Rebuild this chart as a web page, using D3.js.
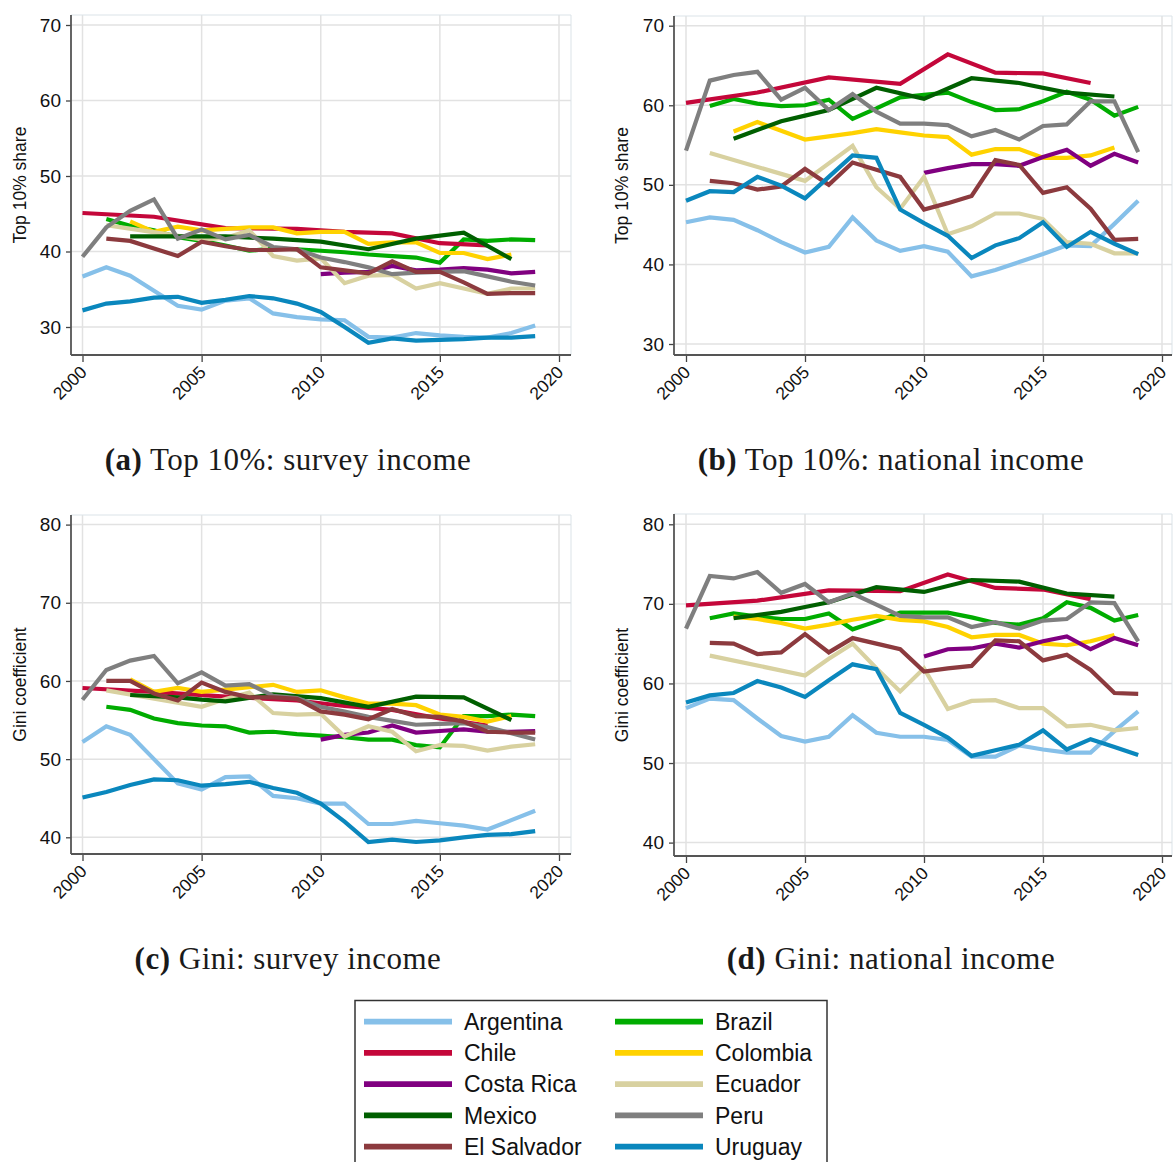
<!DOCTYPE html>
<html><head><meta charset="utf-8">
<script src="https://cdn.jsdelivr.net/npm/d3@7"></script>
<style>html,body{margin:0;padding:0;background:#fff} svg{display:block}</style>
</head><body>
<svg id="chart" width="1174" height="1162"></svg>
<script>
// ---------------- DATA ----------------
const years = d3.range(2000, 2020);
const n = null;
// drawing order (by ISO code)
const countries = ["Argentina","Brazil","Chile","Colombia","Costa Rica","Ecuador","Mexico","Peru","El Salvador","Uruguay"];
const colors    = ["#86c0e9","#00ac00","#c4073a","#ffd200","#800080","#d8d1a0","#005f00","#7f7f7f","#8c3a3e","#0a87bd"];
const legendOrder = ["Argentina","Chile","Costa Rica","Mexico","El Salvador","Brazil","Colombia","Ecuador","Peru","Uruguay"];

// (a) Top 10% share, survey income
const top10Survey = [
  [36.7,37.9,36.8,34.8,32.8,32.3,33.5,33.8,31.8,31.3,31.0,30.9,28.7,28.6,29.2,28.9,28.7,28.6,29.2,30.2], // Argentina
  [n,44.3,43.4,42.8,41.9,41.4,40.8,40.1,40.4,40.3,40.1,39.9,39.6,39.4,39.2,38.5,41.6,41.4,41.6,41.5],    // Brazil
  [45.1,n,n,44.6,n,n,43.1,n,n,43.0,n,42.6,n,42.4,n,41.1,n,40.8,n,n],                                   // Chile
  [n,n,44.0,42.6,43.3,42.8,43.0,43.2,43.2,42.4,42.6,42.6,41.0,41.2,41.2,39.8,39.8,39.0,39.6,n],         // Colombia
  [n,n,n,n,n,n,n,n,n,n,37.0,37.2,37.3,38.1,37.5,37.6,37.8,37.6,37.1,37.3],                              // Costa Rica
  [n,43.5,n,n,n,41.6,41.8,42.8,39.4,38.8,39.1,35.8,36.8,36.9,35.1,35.8,35.1,34.4,35.1,35.1],            // Ecuador
  [n,n,42.0,n,42.0,42.0,42.0,n,41.7,n,41.3,n,40.3,n,41.7,n,42.5,n,39.0,n],                              // Mexico
  [39.3,43.2,45.4,46.9,41.7,42.9,41.6,42.2,40.6,40.3,39.2,38.6,37.9,37.0,37.2,37.3,37.4,36.7,36.0,35.5], // Peru
  [n,41.7,41.4,40.4,39.4,41.3,40.7,40.2,40.2,40.3,37.9,37.5,37.1,38.7,37.3,37.3,35.9,34.4,34.5,34.5],   // El Salvador
  [32.2,33.1,33.4,33.9,34.0,33.2,33.6,34.1,33.8,33.1,32.0,30.0,27.9,28.5,28.2,28.3,28.4,28.6,28.6,28.8]  // Uruguay
];
// (b) Top 10% share, national income
const top10National = [
  [45.3,45.9,45.6,44.3,42.8,41.5,42.2,45.9,43.0,41.7,42.3,41.6,38.5,39.3,40.3,41.3,42.4,42.3,45.1,48.0],
  [n,59.9,60.8,60.2,59.9,60.0,60.7,58.3,59.6,61.0,61.3,61.6,60.4,59.4,59.5,60.5,61.7,60.7,58.7,59.8],
  [60.3,n,n,61.6,n,n,63.5,n,n,62.7,n,66.4,n,64.1,n,64.0,n,62.8,n,n],
  [n,n,56.7,57.9,56.8,55.7,56.1,56.5,57.0,56.6,56.2,56.0,53.8,54.5,54.5,53.4,53.4,53.7,54.7,n],
  [n,n,n,n,n,n,n,n,n,n,51.5,52.1,52.6,52.6,52.4,53.5,54.4,52.4,53.9,52.8],
  [n,54.0,n,n,n,50.5,52.7,54.9,49.7,47.0,51.0,43.8,44.8,46.4,46.4,45.7,42.8,42.6,41.4,41.4],
  [n,n,55.8,n,58.0,58.7,59.4,n,62.2,n,60.8,n,63.4,n,62.8,n,61.6,n,61.1,n],
  [54.3,63.1,63.8,64.2,60.7,62.2,59.4,61.4,59.2,57.7,57.7,57.5,56.1,56.9,55.7,57.4,57.6,60.5,60.5,54.1],
  [n,50.5,50.2,49.4,49.8,52.0,50.0,52.8,51.9,51.0,46.9,47.7,48.6,53.1,52.5,49.0,49.7,47.0,43.1,43.2],
  [48.0,49.2,49.1,51.0,49.9,48.3,51.0,53.7,53.4,46.9,45.2,43.6,40.8,42.4,43.3,45.3,42.2,44.1,42.6,41.3]
];
// (c) Gini, survey income
const giniSurvey = [
  [52.2,54.2,53.1,50.0,46.9,46.1,47.7,47.8,45.3,45.0,44.3,44.3,41.7,41.7,42.1,41.8,41.5,41.0,42.2,43.4],
  [n,56.7,56.3,55.2,54.6,54.3,54.2,53.4,53.5,53.2,53.0,52.8,52.5,52.5,51.8,51.5,55.5,55.5,55.7,55.5],
  [59.1,n,n,58.6,n,n,58.0,n,n,57.5,n,56.8,n,56.3,n,55.2,n,54.3,n,n],
  [n,n,60.2,58.6,59.1,58.6,58.9,59.2,59.5,58.6,58.8,57.9,57.1,57.1,56.9,55.7,55.4,54.8,55.5,n],
  [n,n,n,n,n,n,n,n,n,n,52.5,53.1,53.4,54.3,53.4,53.6,53.8,53.5,53.5,53.6],
  [n,58.8,n,n,n,56.7,57.7,58.5,55.9,55.7,55.8,52.9,54.2,53.5,51.0,51.8,51.7,51.1,51.6,51.9],
  [n,n,58.2,n,57.9,57.6,57.4,n,58.3,n,57.8,n,56.7,n,58.0,n,57.9,n,55.0,n],
  [57.6,61.4,62.6,63.2,59.7,61.1,59.4,59.6,58.1,57.8,56.7,56.1,55.4,54.9,54.4,54.5,54.6,54.1,53.3,52.5],
  [n,60.0,60.0,58.4,57.5,59.8,58.6,57.9,57.9,57.7,56.1,55.7,55.1,56.4,55.5,55.4,54.8,53.5,53.4,53.4],
  [45.1,45.8,46.7,47.4,47.3,46.6,46.8,47.1,46.3,45.7,44.3,42.0,39.4,39.7,39.4,39.6,40.0,40.3,40.4,40.8]
];
// (d) Gini, national income
const giniNational = [
  [56.9,58.1,57.9,55.6,53.4,52.7,53.3,56.0,53.8,53.3,53.3,52.9,50.8,50.8,52.2,51.7,51.3,51.3,54.0,56.5],
  [n,68.2,68.8,68.4,68.1,68.1,68.8,66.8,67.8,68.9,68.9,68.9,68.3,67.6,67.4,68.2,70.2,69.5,67.9,68.6],
  [69.8,n,n,70.4,n,n,71.7,n,n,71.6,n,73.7,n,72.0,n,71.8,n,70.6,n,n],
  [n,n,68.4,68.1,67.6,66.9,67.4,68.0,68.5,68.0,67.8,67.1,65.8,66.1,66.1,65.0,64.8,65.3,66.1,n],
  [n,n,n,n,n,n,n,n,n,n,63.4,64.3,64.4,65.0,64.5,65.3,65.9,64.3,65.7,64.8],
  [n,63.5,n,n,n,61.0,63.1,65.0,61.9,59.0,61.9,56.8,57.8,57.9,56.9,56.9,54.6,54.8,54.1,54.4],
  [n,n,68.2,n,69.0,69.6,70.2,n,72.1,n,71.5,n,73.0,n,72.8,n,71.3,n,70.9,n],
  [66.9,73.5,73.2,74.0,71.4,72.5,70.2,71.3,69.9,68.5,68.3,68.3,67.1,67.7,66.9,67.9,68.1,70.2,70.1,65.3],
  [n,65.1,65.0,63.7,63.9,66.2,63.9,65.7,65.0,64.3,61.5,61.9,62.2,65.4,65.3,62.9,63.6,61.7,58.8,58.7],
  [57.6,58.5,58.8,60.3,59.5,58.3,60.4,62.4,61.8,56.3,54.8,53.2,50.9,51.6,52.3,54.1,51.7,53.0,52.0,51.0]
];

const xTicks = [2000, 2005, 2010, 2015, 2020];
const yTicksTop10 = [30, 40, 50, 60, 70];
const yTicksGini = [40, 50, 60, 70, 80];
const captionLetters = ["(a)", "(b)", "(c)", "(d)"];
const captionTexts = ["Top 10%: survey income", "Top 10%: national income", "Gini: survey income", "Gini: national income"];
const yTitles = ["Top 10% share", "Top 10% share", "Gini coefficient", "Gini coefficient"];

// ---------------- LAYOUT ----------------
const panels = [
  {data: top10Survey,   ticks: yTicksTop10, box:{l:71, r:571, t:15, b:355},  xr:[82.5,559], yr:[327,25],   dom:[30,70], titleX:20,  capX:288, capY:470},
  {data: top10National, ticks: yTicksTop10, box:{l:674,r:1172,t:16, b:355},  xr:[686,1162], yr:[344,25.7], dom:[30,70], titleX:622, capX:891, capY:470},
  {data: giniSurvey,    ticks: yTicksGini,  box:{l:71, r:571, t:515,b:854},  xr:[82.5,559], yr:[837.3,524.6], dom:[40,80], titleX:20,  capX:288, capY:969},
  {data: giniNational,  ticks: yTicksGini,  box:{l:674,r:1172,t:514,b:856},  xr:[686,1162], yr:[842.6,524.3], dom:[40,80], titleX:622, capX:891, capY:969}
];

const svg = d3.select("#chart");
const sans = "'Liberation Sans', Arial, Helvetica, sans-serif";
const serif = "'Liberation Serif', 'Times New Roman', serif";

panels.forEach((p, pi) => {
  const x = d3.scaleLinear().domain([2000, 2020]).range(p.xr);
  const y = d3.scaleLinear().domain(p.dom).range(p.yr);
  const g = svg.append("g");
  const B = p.box;

  // gridlines
  g.selectAll(".hg").data(p.ticks).enter().append("line")
    .attr("x1", B.l).attr("x2", B.r).attr("y1", d => y(d)).attr("y2", d => y(d))
    .attr("stroke", "#e2e2e2").attr("stroke-width", 1.5);
  g.selectAll(".vg").data(xTicks).enter().append("line")
    .attr("x1", d => x(d)).attr("x2", d => x(d)).attr("y1", B.t).attr("y2", B.b)
    .attr("stroke", "#e2e2e2").attr("stroke-width", 1.5);
  // frame top/right
  g.append("path").attr("d", `M${B.l},${B.t}H${B.r}V${B.b}`)
    .attr("fill", "none").attr("stroke", "#dbe3e8").attr("stroke-width", 1);

  // series
  const line = d3.line().x(d => x(d[0])).y(d => y(d[1]));
  p.data.forEach((vals, ci) => {
    const pts = years.map((yr, i) => [yr, vals[i]]).filter(d => d[1] != null);
    g.append("path").datum(pts)
      .attr("d", line)
      .attr("fill", "none")
      .attr("stroke", colors[ci])
      .attr("stroke-width", 4.2)
      .attr("stroke-linejoin", "miter")
      .attr("stroke-miterlimit", 3);
  });

  // axes
  const yAxis = d3.axisLeft(y).tickValues(p.ticks).tickSize(5).tickPadding(5).tickFormat(d3.format("d"));
  const ya = g.append("g").attr("transform", `translate(${B.l},0)`).call(yAxis);
  ya.select(".domain").remove();
  ya.selectAll("text").attr("font-family", sans).attr("font-size", 19).attr("fill", "#111");
  ya.selectAll(".tick line").attr("stroke", "#444").attr("stroke-width", 1.3);

  const xAxis = d3.axisBottom(x).tickValues(xTicks).tickSize(7).tickFormat(d3.format("d"));
  const xa = g.append("g").attr("transform", `translate(0,${B.b})`).call(xAxis);
  xa.select(".domain").remove();
  xa.selectAll(".tick line").attr("stroke", "#444").attr("stroke-width", 1.3);
  xa.selectAll("text")
    .attr("font-family", sans).attr("font-size", 17.5).attr("fill", "#111")
    .attr("text-anchor", "end")
    .attr("x", 0).attr("y", 0).attr("dy", "0.35em")
    .attr("transform", "translate(0.5,14) rotate(-45)");

  // axis lines
  g.append("line").attr("x1", B.l).attr("x2", B.l).attr("y1", B.t).attr("y2", B.b)
    .attr("stroke", "#555").attr("stroke-width", 1.8);
  g.append("line").attr("x1", B.l).attr("x2", B.r).attr("y1", B.b).attr("y2", B.b)
    .attr("stroke", "#555").attr("stroke-width", 1.8);

  // y title
  g.append("text")
    .attr("transform", `translate(${p.titleX},${(B.t + B.b) / 2}) rotate(-90)`)
    .attr("text-anchor", "middle").attr("dy", "0.35em")
    .attr("font-family", sans).attr("font-size", 17.5).attr("fill", "#111")
    .text(yTitles[pi]);

  // caption
  const cap = svg.append("text")
    .attr("x", p.capX).attr("y", p.capY)
    .attr("text-anchor", "middle")
    .attr("font-family", serif).attr("font-size", 31).attr("letter-spacing", 0.5).attr("fill", "#1a1a1a");
  cap.append("tspan").attr("font-weight", "bold").text(captionLetters[pi]);
  cap.append("tspan").text(" " + captionTexts[pi]);
});

// ---------------- LEGEND ----------------
const lg = svg.append("g");
lg.append("rect").attr("x", 355).attr("y", 1000.5).attr("width", 472).attr("height", 175)
  .attr("fill", "#fff").attr("stroke", "#333").attr("stroke-width", 1.5);
const rowY = d3.scaleLinear().domain([0, 4]).range([1021.7, 1146.7]);
const colX = [364, 615];
legendOrder.forEach((name, i) => {
  const col = Math.floor(i / 5), row = i % 5;
  const ci = countries.indexOf(name);
  const cy = rowY(row);
  lg.append("line").attr("x1", colX[col]).attr("x2", colX[col] + 88)
    .attr("y1", cy).attr("y2", cy)
    .attr("stroke", colors[ci]).attr("stroke-width", 5.8);
  lg.append("text").attr("x", colX[col] + 100).attr("y", cy).attr("dy", "0.35em")
    .attr("font-family", sans).attr("font-size", 23).attr("fill", "#111")
    .text(name);
});
</script>
</body></html>
